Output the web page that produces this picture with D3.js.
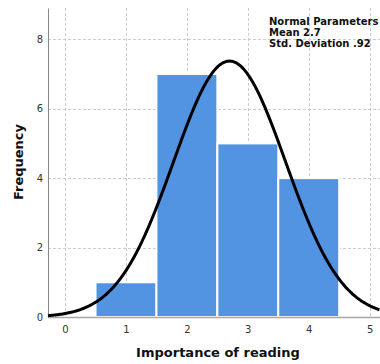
<!DOCTYPE html>
<html>
<head>
<meta charset="utf-8">
<script src="https://cdn.jsdelivr.net/npm/d3@7"></script>
<style>
  html, body { margin: 0; padding: 0; background: #fff; }
  svg { display: block; }
  text { font-family: "DejaVu Sans", Verdana, sans-serif; }
</style>
</head>
<body>
<svg id="chart" width="380" height="364"></svg>
<script>
// Histogram of "Importance of reading" with a fitted normal curve
const categories = [1, 2, 3, 4];
const frequencies = [1, 7, 5, 4];
const xTicks = [0, 1, 2, 3, 4, 5];
const yTicks = [0, 2, 4, 6, 8];
const normalMean = [2.7];
const normalSd = [0.92];
const legendLines = ["Normal Parameters", "Mean 2.7", "Std. Deviation .92"];

const width = 380, height = 364;
const margin = { left: 48, right: 0, top: 8, bottom: 47 };

const svg = d3.select("#chart");

const x = d3.scaleLinear()
  .domain([-0.28, 5.17])
  .range([margin.left, width - margin.right]);
const y = d3.scaleLinear()
  .domain([0, 8.9])
  .range([height - margin.bottom, margin.top]);

// dashed grid
const grid = svg.append("g").attr("stroke", "#cccccc").attr("stroke-dasharray", "3,2").attr("stroke-width", 1);
grid.selectAll("line.v").data(xTicks).join("line")
  .attr("class", "v")
  .attr("x1", d => Math.round(x(d)) + 0.5).attr("x2", d => Math.round(x(d)) + 0.5)
  .attr("y1", y.range()[1]).attr("y2", y.range()[0]);
grid.selectAll("line.h").data(yTicks.filter(d => d > 0)).join("line")
  .attr("class", "h")
  .attr("y1", d => Math.round(y(d)) + 0.5).attr("y2", d => Math.round(y(d)) + 0.5)
  .attr("x1", x.range()[0]).attr("x2", x.range()[1]);

// bars
svg.append("g").selectAll("rect").data(categories).join("rect")
  .attr("x", (d) => x(d - 0.5))
  .attr("width", (d) => x(d + 0.5) - x(d - 0.5))
  .attr("y", (d, i) => y(frequencies[i]))
  .attr("height", (d, i) => y(0) - y(frequencies[i]))
  .attr("fill", "#5294e2")
  .attr("stroke", "#ffffff")
  .attr("stroke-width", 2);

// axes
const xAxis = svg.append("g")
  .attr("transform", `translate(0,${y(0)})`)
  .call(d3.axisBottom(x).tickValues(xTicks).tickSize(0).tickPadding(9).tickFormat(d3.format("d")));
xAxis.select(".domain").attr("stroke", "#a8a8a8").attr("stroke-width", 1.5);
xAxis.selectAll("text").attr("font-size", 10).attr("fill", "#333");

const yAxis = svg.append("g")
  .attr("transform", `translate(${x.range()[0]},0)`)
  .call(d3.axisLeft(y).tickValues(yTicks).tickSize(0).tickPadding(5).tickFormat(d3.format("d")));
yAxis.select(".domain").attr("stroke", "#888").attr("stroke-width", 1);
yAxis.selectAll("text").attr("font-size", 10).attr("fill", "#333");

// normal curve scaled to frequencies (bin width 1)
const n = d3.sum(frequencies);
const mu = normalMean[0], sd = normalSd[0];
const pdf = v => n / (sd * Math.sqrt(2 * Math.PI)) * Math.exp(-0.5 * ((v - mu) / sd) ** 2);
const xs = d3.range(x.domain()[0], x.domain()[1] + 0.001, 0.02);
svg.append("path")
  .datum(xs)
  .attr("fill", "none")
  .attr("stroke", "#000")
  .attr("stroke-width", 3)
  .attr("d", d3.line().x(d => x(d)).y(d => y(pdf(d))).curve(d3.curveBasis));

// legend text
svg.append("g").selectAll("text").data(legendLines).join("text")
  .attr("x", 269)
  .attr("y", (d, i) => 25 + i * 11)
  .attr("font-size", 10)
  .attr("font-weight", "bold")
  .attr("fill", "#111")
  .text(d => d);

// axis titles
svg.append("text")
  .attr("x", 218).attr("y", 357)
  .attr("text-anchor", "middle")
  .attr("font-size", 13).attr("font-weight", "bold").attr("fill", "#111")
  .text("Importance of reading");

svg.append("text")
  .attr("transform", "translate(23,162) rotate(-90)")
  .attr("text-anchor", "middle")
  .attr("font-size", 13).attr("font-weight", "bold").attr("fill", "#111")
  .text("Frequency");
</script>
</body>
</html>
